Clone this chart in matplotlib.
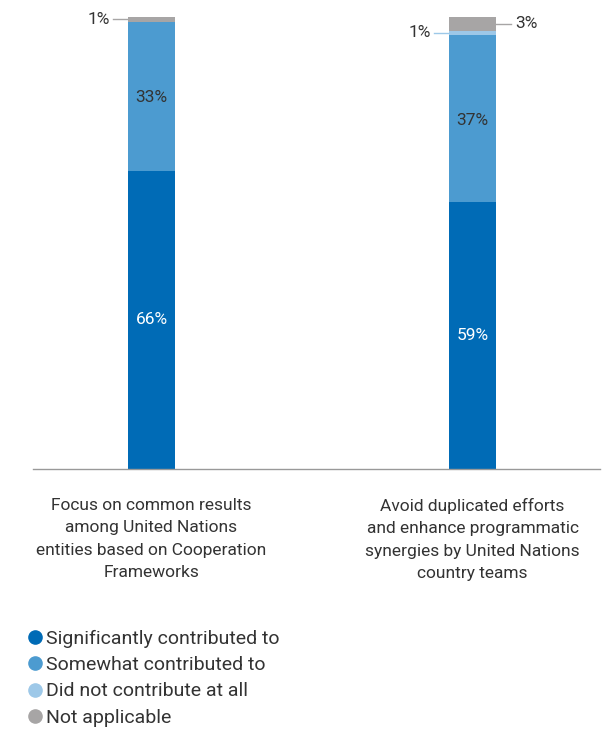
import numpy as np
import matplotlib.pyplot as plt
from matplotlib.lines import Line2D

plt.rcParams['font.family'] = ['Roboto', 'DejaVu Sans']

categories = ["Focus on common results\namong United Nations\nentities based on Cooperation\nFrameworks",
              "Avoid duplicated efforts\nand enhance programmatic\nsynergies by United Nations\ncountry teams"]
series = ["Significantly contributed to", "Somewhat contributed to",
          "Did not contribute at all", "Not applicable"]
significantly = [66, 59]
somewhat = [33, 37]
not_at_all = [0, 1]
not_applicable = [1, 3]

colors = ['#006BB6', '#4C9BD0', '#9DC8E8', '#A7A5A5']
txt = '#333333'

fig = plt.figure(figsize=(6.02, 7.29), dpi=100)
ax = fig.add_axes([33/602, 1-469/729, 567/602, 452/729])

x = np.arange(len(categories))
w = 0.146
values = [significantly, somewhat, not_at_all, not_applicable]
bottom = np.zeros(len(categories))
for vals, c in zip(values, colors):
    ax.bar(x, vals, w, bottom=bottom, color=c, linewidth=0)
    bottom += np.array(vals)

# inner labels
for i in range(len(categories)):
    ax.text(x[i], significantly[i]/2, f"{significantly[i]}%", ha='center', va='center',
            color='white', fontsize=12.5)
    ax.text(x[i], significantly[i] + somewhat[i]/2, f"{somewhat[i]}%", ha='center',
            va='center_baseline', color=txt, fontsize=12.5)

# outside labels with leader lines
def side_label(xi, y, val, color, side):
    gap = 0.047
    if side == 'left':
        x0 = xi - w/2
        ax.plot([x0 - gap, x0], [y, y], color=color, lw=1, clip_on=False)
        ax.text(x0 - gap - 0.01, y, f"{val}%", ha='right', va='center', color=txt, fontsize=12.5)
    else:
        x0 = xi + w/2
        ax.plot([x0, x0 + gap], [y, y], color=color, lw=1, clip_on=False)
        ax.text(x0 + gap + 0.012, y, f"{val}%", ha='left', va='center', color=txt, fontsize=12.5)

side_label(x[0], 100 - not_applicable[0]/2, not_applicable[0], '#A7A5A5', 'left')
side_label(x[1], significantly[1] + somewhat[1] + not_at_all[1]/2, not_at_all[1], colors[2], 'left')
side_label(x[1], 100 - not_applicable[1]/2, not_applicable[1], '#A7A5A5', 'right')

ax.set_xlim(-0.369, 1.397)
ax.set_ylim(0, 100)
ax.set_xticks(x)
ax.set_xticklabels(categories, fontsize=12.5, color=txt, linespacing=1.6)
ax.tick_params(axis='x', length=0, pad=21)
ax.set_yticks([])
for s in ['top', 'right', 'left']:
    ax.spines[s].set_visible(False)
ax.spines['bottom'].set_color('#999999')
ax.spines['bottom'].set_linewidth(1)

handles = [Line2D([0], [0], marker='o', ls='', markersize=9.5, markerfacecolor=c,
                  markeredgecolor=c) for c in colors]
fig.legend(handles, series, loc='upper left', bbox_to_anchor=(30/602, 1-630/729),
           frameon=False, fontsize=14, handlelength=0.55, handletextpad=0.25,
           labelspacing=0.42, borderaxespad=0, borderpad=0, labelcolor=txt)

plt.savefig('out.png', dpi=100)
